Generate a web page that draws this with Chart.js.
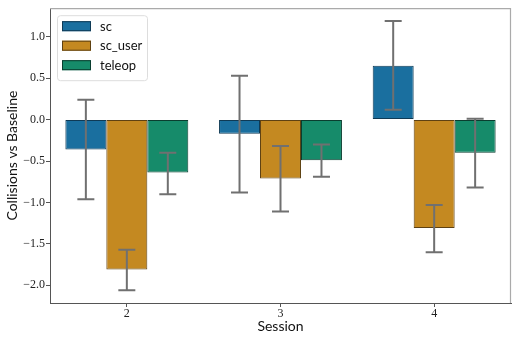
<!DOCTYPE html>
<html>
<head>
<meta charset="utf-8">
<script src="https://cdn.jsdelivr.net/npm/chart.js@4/dist/chart.umd.min.js"></script>
<style>
    html, body { margin: 0; padding: 0; background: #fff; }
    #wrap { width: 515px; height: 339px; position: relative; }
</style>
</head>
<body>
<div id="wrap"><canvas id="myChart"></canvas></div>
<script>
const sessions = ['2', '3', '4'];

const scMean = [-0.36, -0.17, 0.65];
const scLow = [-0.96, -0.88, 0.12];
const scHigh = [0.24, 0.53, 1.19];

const scUserMean = [-1.81, -0.71, -1.31];
const scUserLow = [-2.06, -1.11, -1.60];
const scUserHigh = [-1.57, -0.32, -1.03];

const teleopMean = [-0.64, -0.49, -0.40];
const teleopLow = [-0.90, -0.69, -0.82];
const teleopHigh = [-0.40, -0.30, 0.01];

const yTicks = [1.0, 0.5, 0.0, -0.5, -1.0, -1.5, -2.0];

const errLow = [scLow, scUserLow, teleopLow];
const errHigh = [scHigh, scUserHigh, teleopHigh];

const serif = '"Liberation Serif", serif';
const sans = 'Lato, "Open Sans", sans-serif';

function fmt(v) {
    const s = Math.abs(v).toFixed(1);
    return v < -1e-9 ? '\u2212' + s : s;
}

const chartData = {
    labels: sessions,
    datasets: [
        {
            label: 'sc',
            data: scMean,
            backgroundColor: '#1a6f9f',
            borderColor: '#0f3a55'
        },
        {
            label: 'sc_user',
            data: scUserMean,
            backgroundColor: '#c48921',
            borderColor: '#5e4112'
        },
        {
            label: 'teleop',
            data: teleopMean,
            backgroundColor: '#168b6a',
            borderColor: '#0a3d2f'
        }
    ]
};
chartData.datasets.forEach(function (ds) {
    ds.borderWidth = 1;
    ds.borderSkipped = false;
    ds.categoryPercentage = 0.8;
    ds.barPercentage = 1.0;
});

const chartConfig = {
    type: 'bar',
    data: chartData,
    options: {
        responsive: true,
        maintainAspectRatio: false,
        animation: false,
        layout: {
            padding: { top: 4, right: 4, left: 0, bottom: 0 }
        },
        scales: {
            x: {
                offset: true,
                grid: {
                    offset: false,
                    drawOnChartArea: false,
                    drawTicks: true,
                    tickLength: 4,
                    color: '#555'
                },
                border: { display: true, color: '#555', width: 1 },
                ticks: {
                    padding: 0,
                    color: '#222',
                    font: { family: serif, size: 12 }
                },
                title: {
                    display: true,
                    text: 'Session',
                    color: '#111',
                    font: { family: sans, size: 14 },
                    padding: { top: 0, bottom: 4 }
                },
                afterFit: function (scale) { scale.height = 36; }
            },
            y: {
                min: -2.214,
                max: 1.345,
                grid: {
                    drawOnChartArea: false,
                    drawTicks: true,
                    tickLength: 4,
                    color: '#555'
                },
                border: { display: true, color: '#555', width: 1 },
                afterBuildTicks: function (scale) {
                    scale.ticks = yTicks.map(function (v) { return { value: v }; });
                },
                ticks: {
                    padding: 1,
                    color: '#222',
                    font: { family: serif, size: 12 },
                    callback: function (value) { return fmt(value); }
                },
                title: {
                    display: true,
                    text: 'Collisions vs Baseline',
                    color: '#111',
                    font: { family: sans, size: 14 },
                    padding: { top: 4, bottom: 0 }
                },
                afterFit: function (scale) { scale.width = 50; }
            }
        },
        plugins: {
            legend: { display: false },
            tooltip: { enabled: false }
        }
    },
    plugins: [
        {
            id: 'spines',
            afterDraw: function (chart) {
                const ctx = chart.ctx;
                const a = chart.chartArea;
                ctx.save();
                ctx.strokeStyle = '#aaaaaa';
                ctx.lineWidth = 1.2;
                ctx.beginPath();
                ctx.moveTo(a.left, a.top + 0.5);
                ctx.lineTo(a.right - 0.5, a.top + 0.5);
                ctx.lineTo(a.right - 0.5, a.bottom);
                ctx.stroke();
                ctx.restore();
            }
        },
        {
            id: 'errorBars',
            afterDatasetsDraw: function (chart) {
                const ctx = chart.ctx;
                const yScale = chart.scales.y;
                ctx.save();
                ctx.strokeStyle = '#707070';
                ctx.lineWidth = 2;
                chart.data.datasets.forEach(function (dataset, di) {
                    const meta = chart.getDatasetMeta(di);
                    meta.data.forEach(function (bar, i) {
                        const x = bar.x;
                        const y1 = yScale.getPixelForValue(errLow[di][i]);
                        const y2 = yScale.getPixelForValue(errHigh[di][i]);
                        const cap = 8.5;
                        ctx.beginPath();
                        ctx.moveTo(x, y1);
                        ctx.lineTo(x, y2);
                        ctx.moveTo(x - cap, y1);
                        ctx.lineTo(x + cap, y1);
                        ctx.moveTo(x - cap, y2);
                        ctx.lineTo(x + cap, y2);
                        ctx.stroke();
                    });
                });
                ctx.restore();
            }
        },
        {
            id: 'insideLegend',
            afterDraw: function (chart) {
                const ctx = chart.ctx;
                const a = chart.chartArea;
                const bx = a.left + 7, by = a.top + 7, bw = 90, bh = 65;
                ctx.save();
                ctx.fillStyle = 'rgba(255,255,255,0.85)';
                ctx.strokeStyle = '#dddddd';
                ctx.lineWidth = 1;
                ctx.beginPath();
                ctx.roundRect(bx + 0.5, by + 0.5, bw, bh, 3);
                ctx.fill();
                ctx.stroke();
                ctx.font = '13px ' + sans;
                ctx.textBaseline = 'middle';
                ctx.textAlign = 'left';
                chart.data.datasets.forEach(function (ds, i) {
                    const cy = by + 11 + i * 19.5;
                    ctx.fillStyle = ds.backgroundColor;
                    ctx.strokeStyle = ds.borderColor;
                    ctx.fillRect(bx + 5, cy - 5, 29, 10);
                    ctx.strokeRect(bx + 5.5, cy - 4.5, 28, 9);
                    ctx.fillStyle = '#111';
                    ctx.fillText(ds.label, bx + 43, cy + 0.5);
                });
                ctx.restore();
            }
        }
    ]
};

const ctx = document.getElementById('myChart').getContext('2d');
const myChart = new Chart(ctx, chartConfig);
</script>
</body>
</html>
